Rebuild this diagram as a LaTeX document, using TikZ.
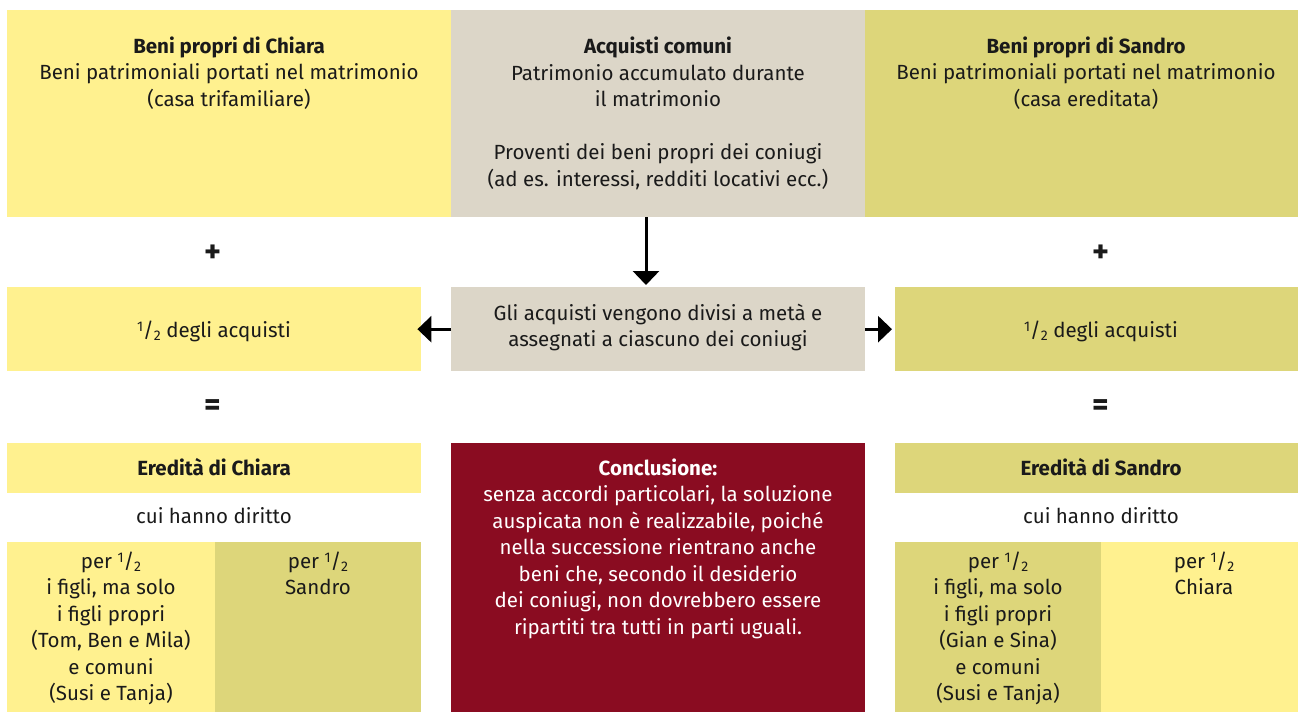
\documentclass[tikz,border=0pt]{standalone}
\usepackage{fontspec}
\setmainfont{Fira Sans}
\usetikzlibrary{arrows.meta}
\definecolor{cyel}{HTML}{FFF18F}
\definecolor{cgrey}{HTML}{DCD6C8}
\definecolor{coli}{HTML}{DDD67A}
\definecolor{cred}{HTML}{8A0C21}
\definecolor{ctxt}{HTML}{1A1A1A}
\newcommand{\half}{\raisebox{0.5ex}{\fontsize{14}{14}\selectfont 1}/\raisebox{-0.3ex}{\fontsize{14}{14}\selectfont 2}}
\tikzset{
  box/.style={draw=none, inner sep=0pt, anchor=north west},
  txt/.style={align=center, text=ctxt, font=\fontsize{20.5}{26.5}\selectfont, inner sep=0pt, anchor=base},
  sym/.style={text=ctxt, font=\fontsize{32}{32}\selectfont\bfseries, inner sep=0pt},
  arr/.style={line width=3pt, draw=black, -{Triangle[length=14pt,width=26pt]}},
}
\begin{document}
\begin{tikzpicture}[x=1pt,y=-1pt]
\useasboundingbox (0,0) rectangle (1298,712);
% top row
\node[box, fill=cyel, minimum width=444, minimum height=207] (tl) at (7,10) {};
\node[box, fill=cgrey, minimum width=414, minimum height=207] (tm) at (451,10) {};
\node[box, fill=coli, minimum width=433, minimum height=207] (tr) at (865,10) {};
\node[txt] (tltxt) at (229,106) {\textbf{Beni propri di Chiara}\\Beni patrimoniali portati nel matrimonio\\(casa trifamiliare)};
\node[txt] (tmtxt) at (658,186) {\textbf{Acquisti comuni}\\Patrimonio accumulato durante\\il matrimonio\\[26.5pt]Proventi dei beni propri dei coniugi\\(ad es. interessi, redditi locativi ecc.)};
\node[txt] (trtxt) at (1086,106) {\textbf{Beni propri di Sandro}\\Beni patrimoniali portati nel matrimonio\\(casa ereditata)};
% plus
\node[sym] (p1) at (213,254) {+};
\node[sym] (p2) at (1101,254) {+};
% middle row
\node[box, fill=cyel, minimum width=414, minimum height=84] (ml) at (7,287) {};
\node[box, fill=cgrey, minimum width=414, minimum height=84] (mm) at (451,287) {};
\node[box, fill=coli, minimum width=403, minimum height=84] (mr) at (895,287) {};
\node[txt] (mltxt) at (214,337) {\half\ degli acquisti};
\node[txt] (mmtxt) at (658,346.5) {Gli acquisti vengono divisi a metà e\\assegnati a ciascuno dei coniugi};
\node[txt] (mrtxt) at (1101,337) {\half\ degli acquisti};
% arrows
\coordinate (a1) at (646,217);
\coordinate (a1e) at (646,285);
\draw[arr] (a1) -- (a1e);
\draw[arr] (mm.west) -- ([xshift=-4pt]ml.east);
\draw[arr] (mm.east) -- ([xshift=-3pt]mr.west);
% equals
\node[sym] (e1) at (213,408) {=};
\node[sym] (e2) at (1101,408) {=};
% bottom left
\node[box, fill=cyel, minimum width=414, minimum height=50] (bl) at (7,443) {};
\node[txt] (bltxt) at (214,475) {\textbf{Eredità di Chiara}};
\node[txt] (cl) at (214,523) {cui hanno diritto};
\node[box, fill=cyel, minimum width=208, minimum height=170] (bl1) at (7,542) {};
\node[box, fill=coli, minimum width=206, minimum height=170] (bl2) at (215,542) {};
\node[txt] (bl1t) at (111,700.5) {per \half\\i figli, ma solo\\i figli propri\\(Tom, Ben e Mila)\\e comuni\\(Susi e Tanja)};
\node[txt] (bl2t) at (318,594.5) {per \half\\Sandro};
% conclusion
\node[box, fill=cred, minimum width=414, minimum height=269] (cc) at (451,443) {};
\node[txt, text=white] (cct) at (658,634) {\textbf{Conclusione:}\\senza accordi particolari, la soluzione\\auspicata non è realizzabile, poiché\\nella successione rientrano anche\\beni che, secondo il desiderio\\dei coniugi, non dovrebbero essere\\ripartiti tra tutti in parti uguali.};
% bottom right
\node[box, fill=coli, minimum width=403, minimum height=50] (br) at (895,443) {};
\node[txt] (brtxt) at (1101,475) {\textbf{Eredità di Sandro}};
\node[txt] (cr) at (1101,523) {cui hanno diritto};
\node[box, fill=coli, minimum width=206, minimum height=170] (br1) at (895,542) {};
\node[box, fill=cyel, minimum width=197, minimum height=170] (br2) at (1101,542) {};
\node[txt] (br1t) at (998,700.5) {per \half\\i figli, ma solo\\i figli propri\\(Gian e Sina)\\e comuni\\(Susi e Tanja)};
\node[txt] (br2t) at (1204,594.5) {per \half\\Chiara};
\end{tikzpicture}
\end{document}
